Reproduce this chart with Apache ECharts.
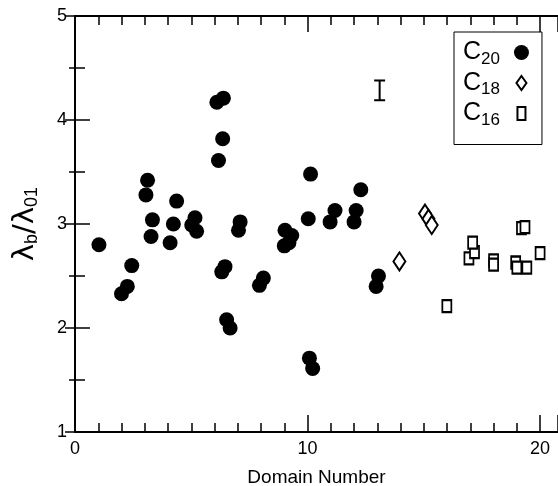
<!DOCTYPE html>
<html>
<head>
<meta charset="utf-8">
<script src="https://cdn.jsdelivr.net/npm/echarts@6/dist/echarts.min.js"></script>
<style>
  html, body { margin: 0; padding: 0; background: #fff; }
  #chart { width: 558px; height: 486px; }
</style>
</head>
<body>
<div id="chart"></div>
<script>
// C20 : filled circles
const c20X = [1.03, 2.0, 2.25, 2.44, 3.05, 3.12, 3.27, 3.33, 4.09, 4.23, 4.37, 5.02, 5.16, 5.23,
  6.1, 6.38, 6.35, 6.17, 6.31, 6.45, 6.52, 6.67, 7.03, 7.1, 7.93, 8.1, 9.03, 9.32, 9.0, 9.2,
  10.03, 10.13, 10.08, 10.22, 10.97, 11.18, 12.0, 12.09, 12.29, 12.95, 13.05];
const c20Y = [2.80, 2.33, 2.40, 2.60, 3.28, 3.42, 2.88, 3.04, 2.82, 3.00, 3.22, 2.99, 3.06, 2.93,
  4.17, 4.21, 3.82, 3.61, 2.54, 2.59, 2.08, 2.00, 2.94, 3.02, 2.41, 2.48, 2.94, 2.89, 2.79, 2.82,
  3.05, 3.48, 1.71, 1.61, 3.02, 3.13, 3.02, 3.13, 3.33, 2.40, 2.50];
// C18 : open diamonds
const c18X = [13.95, 15.05, 15.2, 15.34];
const c18Y = [2.64, 3.10, 3.05, 2.99];
// C16 : open squares
const c16X = [15.99, 16.94, 17.18, 17.1, 18.0, 18.0, 18.95, 19.0, 19.43, 19.2, 19.35, 20.0];
const c16Y = [2.21, 2.67, 2.73, 2.82, 2.65, 2.61, 2.63, 2.58, 2.58, 2.96, 2.97, 2.72];
// typical error bar
const errX = [13.1];
const errLow = [4.19];
const errHigh = [4.38];

const seriesNames = ["C20", "C18", "C16"];

const zip = (xs, ys) => xs.map((x, i) => [x, ys[i]]);
const font = "Liberation Sans, Arial, Helvetica, sans-serif";
const black = "#000";

const chart = echarts.init(document.getElementById("chart"));

const tickStyle = { color: black, width: 1.5 };
const noSplit = { show: false };

const option = {
  animation: false,
  backgroundColor: "#fff",
  grid: { left: 75, top: 16, right: 0, bottom: 54, containLabel: false, outerBoundsMode: "none" },
  legend: {
    orient: "vertical",
    left: 454,
    top: 32,
    align: "right",
    padding: [8, 12, 16, 9],
    itemGap: 3,
    itemWidth: 15,
    itemHeight: 15,
    borderColor: black,
    borderWidth: 1,
    data: [
      { name: "C20", icon: "circle" },
      // invisible corner moves keep the glyph small inside the 15x15 icon box
      { name: "C18", icon: "path://M0,0M15,15M7.5,0.5L12.5,7.5L7.5,14.5L2.5,7.5Z" },
      { name: "C16", icon: "path://M0,0M15,15M3.5,1H11.5V14H3.5Z" },
    ],
    formatter: (name) => "{b|C}{s|" + name.slice(1) + "}",
    textStyle: {
      padding: [0, 9, 0, 0],
      rich: {
        b: { fontFamily: font, fontSize: 25, color: black, lineHeight: 30 },
        s: { fontFamily: font, fontSize: 17, color: black, lineHeight: 17, verticalAlign: "bottom" },
      },
    },
  },
  xAxis: [
    {
      type: "value", position: "bottom", min: 0, max: 20.77, interval: 1,
      axisLine: { show: true, lineStyle: { color: black, width: 2 } },
      axisTick: { show: true, inside: true, length: 9, lineStyle: tickStyle },
      axisLabel: {
        color: black, fontFamily: font, fontSize: 18, margin: 8,
        formatter: (v) => (Math.abs(v % 10) < 1e-6 ? String(v) : ""),
      },
      splitLine: noSplit,
      name: "Domain Number", nameLocation: "middle", nameGap: 36,
      nameTextStyle: { color: black, fontFamily: font, fontSize: 19 },
    },
    {
      type: "value", position: "bottom", min: 0, max: 20.77, interval: 10,
      axisLine: { show: false },
      axisTick: { show: true, inside: true, length: 17, lineStyle: tickStyle },
      axisLabel: { show: false }, splitLine: noSplit,
    },
    {
      type: "value", position: "top", min: 0, max: 20.77, interval: 1,
      axisLine: { show: true, lineStyle: { color: black, width: 2 } },
      axisTick: { show: true, inside: true, length: 9, lineStyle: tickStyle },
      axisLabel: { show: false }, splitLine: noSplit,
    },
    {
      type: "value", position: "top", min: 0, max: 20.77, interval: 10,
      axisLine: { show: false },
      axisTick: { show: true, inside: true, length: 16, lineStyle: tickStyle },
      axisLabel: { show: false }, splitLine: noSplit,
    },
  ],
  yAxis: [
    {
      type: "value", position: "left", min: 1, max: 5, interval: 1,
      axisLine: { show: true, lineStyle: { color: black, width: 2 } },
      axisTick: { show: true, inside: true, length: 15, lineStyle: tickStyle },
      minorTick: { show: true, splitNumber: 2, length: 10, lineStyle: tickStyle },
      axisLabel: { color: black, fontFamily: font, fontSize: 18, margin: 8 },
      splitLine: noSplit,
      name: "{l|λ}{s|b}{l|/λ}{s|01}",
      nameLocation: "middle", nameGap: 34,
      nameTextStyle: {
        rich: {
          l: { fontFamily: "DejaVu Sans, sans-serif", fontSize: 29, color: black, lineHeight: 32 },
          s: { fontFamily: font, fontSize: 18, color: black, lineHeight: 18, verticalAlign: "bottom" },
        },
      },
    },
    {
      type: "value", position: "right", min: 1, max: 5, interval: 1,
      axisLine: { show: true, lineStyle: { color: black, width: 2 } },
      axisTick: { show: true, inside: true, length: 10, lineStyle: tickStyle },
      minorTick: { show: true, splitNumber: 2, length: 6, lineStyle: tickStyle },
      axisLabel: { show: false },
      splitLine: noSplit,
    },
  ],
  series: [
    {
      name: seriesNames[0], type: "scatter", symbol: "circle", symbolSize: 15,
      itemStyle: { color: black, opacity: 1 },
      data: zip(c20X, c20Y),
    },
    {
      name: seriesNames[1], type: "scatter", symbol: "diamond", symbolSize: [12, 18],
      itemStyle: { color: "#fff", borderColor: black, borderWidth: 2, opacity: 1 },
      data: zip(c18X, c18Y),
    },
    {
      name: seriesNames[2], type: "scatter", symbol: "rect", symbolSize: [9, 12],
      itemStyle: { color: "#fff", borderColor: black, borderWidth: 2, opacity: 1 },
      data: zip(c16X, c16Y),
    },
    {
      type: "custom",
      encode: { x: 0, y: [1, 2] },
      data: errX.map((x, i) => [x, errLow[i], errHigh[i]]),
      renderItem: function (params, api) {
        const lo = api.coord([api.value(0), api.value(1)]);
        const hi = api.coord([api.value(0), api.value(2)]);
        const half = 5.5;
        const st = { stroke: black, lineWidth: 2 };
        return {
          type: "group",
          children: [
            { type: "line", shape: { x1: lo[0], y1: lo[1], x2: hi[0], y2: hi[1] }, style: st },
            { type: "line", shape: { x1: lo[0] - half, y1: lo[1], x2: lo[0] + half, y2: lo[1] }, style: st },
            { type: "line", shape: { x1: hi[0] - half, y1: hi[1], x2: hi[0] + half, y2: hi[1] }, style: st },
          ],
        };
      },
    },
  ],
};

chart.setOption(option);
</script>
</body>
</html>
